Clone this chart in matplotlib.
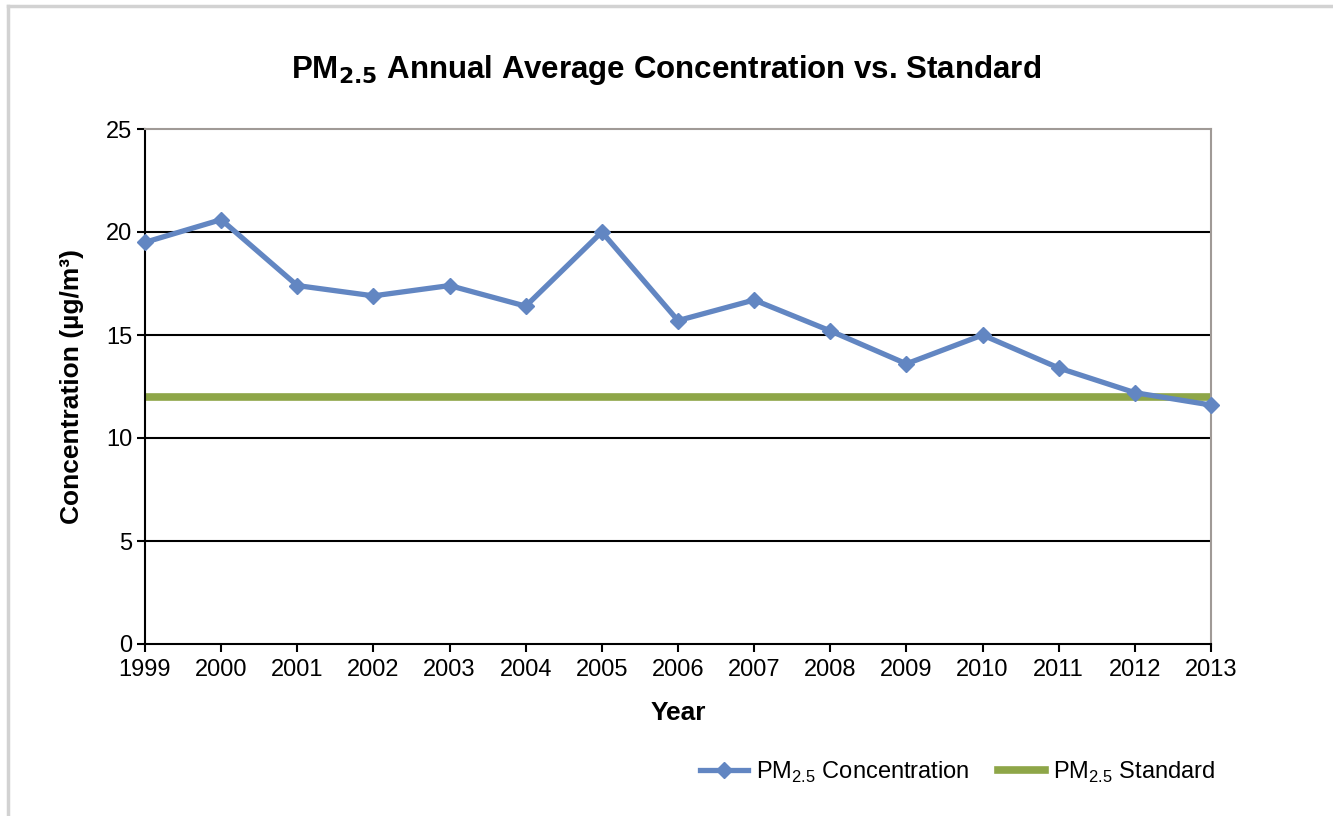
import matplotlib
matplotlib.use("Agg")
import matplotlib.pyplot as plt
from matplotlib.lines import Line2D

years = [1999, 2000, 2001, 2002, 2003, 2004, 2005, 2006, 2007, 2008, 2009, 2010, 2011, 2012, 2013]
concentration = [19.5, 20.6, 17.4, 16.9, 17.4, 16.4, 20.0, 15.7, 16.7, 15.2, 13.6, 15.0, 13.4, 12.2, 11.6]
standard = [12] * len(years)
yticks = [0, 5, 10, 15, 20, 25]

blue = "#6286c2"
green = "#8ea648"

plt.rcParams['font.family'] = ['Liberation Sans', 'DejaVu Sans']

fig = plt.figure(figsize=(13.33, 8.16), dpi=100)
W, H = 1333, 816
ax = fig.add_axes([145 / W, 1 - 644 / H, (1211 - 145) / W, (644 - 129) / H])

# figure border lines (screenshot frame)
fig.add_artist(Line2D([8 / W, 8 / W], [0, 1 - 6 / H], transform=fig.transFigure, color="#d2d2d2", lw=2.5))
fig.add_artist(Line2D([8 / W, 1], [1 - 6 / H, 1 - 6 / H], transform=fig.transFigure, color="#d2d2d2", lw=2.5))

ax.set_xlim(years[0], years[-1])
ax.set_ylim(0, 25)
ax.set_yticks(yticks)
ax.set_xticks(years)
for y in yticks[1:-1]:
    ax.axhline(y, color="black", lw=1.5, zorder=1)

ax.plot(years, standard, color=green, lw=5.5, solid_capstyle="butt", zorder=2, clip_on=False)
ax.plot(years, concentration, color=blue, lw=3.8, marker="D", markersize=8.5, zorder=3, clip_on=False)

for s in ["left", "bottom"]:
    ax.spines[s].set_color("black")
    ax.spines[s].set_linewidth(1.5)
for s in ["right", "top"]:
    ax.spines[s].set_color("#a09a96")
    ax.spines[s].set_linewidth(1.5)

ax.tick_params(axis="both", direction="out", length=6, width=1.5, color="black", labelsize=17, pad=3)
ax.tick_params(axis="x", pad=5)

ax.set_xlabel("Year", fontsize=19, fontweight="bold", labelpad=14)
ax.set_ylabel("Concentration (µg/m³)", fontsize=19, fontweight="bold", labelpad=16)

fig.text(0.5, 1 - 70 / H, r"PM$_{\mathbf{2.5}}$ Annual Average Concentration vs. Standard",
         ha="center", va="center", fontsize=22.5, fontweight="bold")

handles = [
    Line2D([], [], color=blue, lw=3.8, marker="D", markersize=8.5),
    Line2D([], [], color=green, lw=5.5),
]
labels = [r"PM$_{\mathregular{2.5}}$ Concentration", r"PM$_{\mathregular{2.5}}$ Standard"]
fig.legend(handles, labels, loc="center", bbox_to_anchor=(958 / W, 1 - 772 / H),
           ncol=2, frameon=False, fontsize=17, handlelength=2.0, columnspacing=1.2, handletextpad=0.35)

fig.savefig("out.png", dpi=100, facecolor="white")
